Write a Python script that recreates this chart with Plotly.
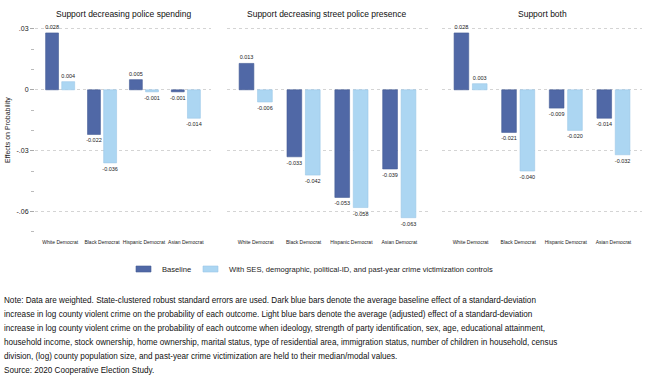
import plotly.graph_objects as go

categories = ["White Democrat", "Black Democrat", "Hispanic Democrat", "Asian Democrat"]
panel_titles = ["Support decreasing police spending",
                "Support decreasing street police presence",
                "Support both"]
baseline = [
    [0.028, -0.022, 0.005, -0.001],
    [0.013, -0.033, -0.053, -0.039],
    [0.028, -0.021, -0.009, -0.014],
]
controls = [
    [0.004, -0.036, -0.001, -0.014],
    [-0.006, -0.042, -0.058, -0.063],
    [0.003, -0.040, -0.020, -0.032],
]
series_names = ["Baseline",
                "With SES, demographic, political-ID, and past-year crime victimization controls"]
ytick_vals = [0.03, 0.0, -0.03, -0.06]
ytick_text = [".03", "0", "-.03", "-.06"]
note_lines = [
    "Note: Data are weighted. State-clustered robust standard errors are used. Dark blue bars denote the average baseline effect of a standard-deviation",
    "increase in log county violent crime on the probability of each outcome. Light blue bars denote the average (adjusted) effect of a standard-deviation",
    "increase in log county violent crime on the probability of each outcome when ideology, strength of party identification, sex, age, educational attainment,",
    "household income, stock ownership, home ownership, marital status, type of residential area, immigration status, number of children in household, census",
    "division, (log) county population size, and past-year crime victimization are held to their median/modal values.",
    "Source: 2020 Cooperative Election Study.",
]

W, H = 645, 383
DARK = "#5068a6"
LIGHT = "#acd6f2"
EDGE = ["#445c96", "#9cc8e8"]
COLORS = [DARK, LIGHT]
FONT = "Liberation Sans, Arial, sans-serif"

x_px = [(35, 211), (227, 428), (442, 642)]
y_top, y_bot = 22, 238
ydom = [1 - y_bot / H, 1 - y_top / H]

fig = go.Figure()
for i in range(3):
    xa = "x" if i == 0 else f"x{i+1}"
    ya = "y" if i == 0 else f"y{i+1}"
    for s, vals in enumerate([baseline[i], controls[i]]):
        fig.add_trace(go.Bar(
            x=categories, y=vals, name=series_names[s], xaxis=xa, yaxis=ya,
            marker=dict(color=COLORS[s], line=dict(color=EDGE[s], width=0.6)),
            text=[f"{v:.3f}" for v in vals], textposition="outside",
            textfont=dict(size=5.5, color="#222222", family=FONT),
            constraintext="none", cliponaxis=False,
            showlegend=False,
        ))

layout = dict(
    width=W, height=H, margin=dict(l=0, r=0, t=0, b=0, autoexpand=False),
    paper_bgcolor="white", plot_bgcolor="white",
    barmode="group", bargap=0.23, bargroupgap=0.2,
    font=dict(family=FONT, color="#222222"),
    showlegend=False,
)
for i in range(3):
    xk = "xaxis" if i == 0 else f"xaxis{i+1}"
    yk = "yaxis" if i == 0 else f"yaxis{i+1}"
    layout[xk] = dict(domain=[x_px[i][0] / W, x_px[i][1] / W], range=[-0.6, 3.6],
                      automargin=False, showline=False, showgrid=False, zeroline=False,
                      ticks="", tickfont=dict(size=5, family=FONT, color="#222222"),
                      anchor="y" if i == 0 else f"y{i+1}")
    ydef = dict(domain=ydom, range=[-0.073, 0.0334], zeroline=False, showline=False,
                automargin=False,
                showgrid=True, gridcolor="#d4d4d4", griddash="dot", gridwidth=1,
                tickvals=ytick_vals, ticktext=ytick_text,
                anchor="x" if i == 0 else f"x{i+1}")
    if i == 0:
        ydef.update(ticks="outside", ticklen=4, tickcolor="#aaaaaa", tickwidth=1,
                    tickfont=dict(size=7, family=FONT, color="#222222"),
                    minor=dict(dtick=0.01, tick0=0, ticks="outside", ticklen=3,
                               tickcolor="#bbbbbb", showgrid=False))
    else:
        ydef.update(showticklabels=False, ticks="", matches="y")
    layout[yk] = ydef
fig.update_layout(**layout)

title_x = [123, 327, 542]
for t, xc in zip(panel_titles, title_x):
    fig.add_annotation(text=t, x=xc / W, y=1 - 14 / H, xref="paper", yref="paper",
                       showarrow=False, xanchor="center", yanchor="middle",
                       font=dict(size=8.5, family=FONT, color="#111111"))

fig.add_annotation(text="Effects on Probability", textangle=-90, x=8 / W, y=1 - 130 / H,
                   xref="paper", yref="paper", showarrow=False,
                   xanchor="center", yanchor="middle",
                   font=dict(size=7, family=FONT, color="#222222"))

# legend (swatches + labels)
leg_y = 269
sw = [(136, 151), (203, 218)]
for s in range(2):
    fig.add_shape(type="rect", xref="paper", yref="paper",
                  x0=sw[s][0] / W, x1=sw[s][1] / W,
                  y0=1 - (leg_y + 3) / H, y1=1 - (leg_y - 3) / H,
                  fillcolor=COLORS[s], line=dict(color=EDGE[s], width=0.6))
    fig.add_annotation(text=series_names[s], x=(sw[s][1] + 9) / W, y=1 - leg_y / H,
                       xref="paper", yref="paper", showarrow=False,
                       xanchor="left", yanchor="middle",
                       font=dict(size=7.6, family=FONT, color="#222222"))

for k, line in enumerate(note_lines):
    fig.add_annotation(text=line, x=2 / W, y=1 - (300 + 14 * k) / H, xref="paper", yref="paper",
                       showarrow=False, xanchor="left", yanchor="middle", align="left",
                       font=dict(size=8.15, family=FONT, color="#111111"))

fig.write_html("out.html", config={"displayModeBar": False},
               post_script="document.body.style.margin='0';document.body.style.overflow='hidden';")
